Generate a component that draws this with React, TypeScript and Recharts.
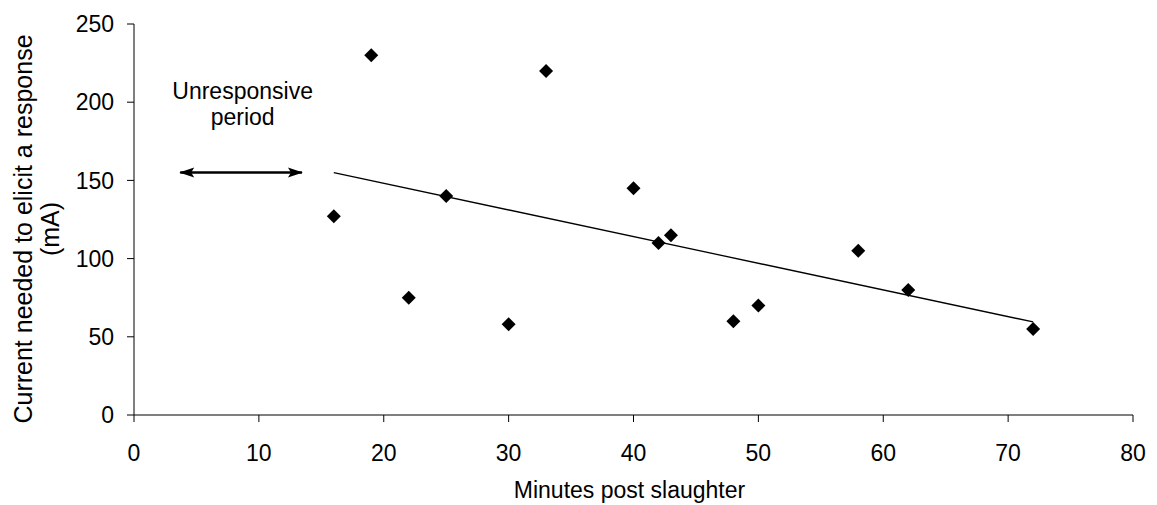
import {
  ComposedChart,
  Scatter,
  Line,
  XAxis,
  YAxis,
  ReferenceDot,
} from "recharts";

// minutes post slaughter vs current (mA)
const minutes = [16, 19, 22, 25, 30, 33, 40, 42, 43, 48, 50, 58, 62, 72];
const current = [127, 230, 75, 140, 58, 220, 145, 110, 115, 60, 70, 105, 80, 55];

// linear trend line end points
const trendX = [16, 72];
const trendY = [155, 59.5];

// double arrow marking the unresponsive period
const arrowX = [3.7, 13.45];
const arrowY = [155, 155];

const xTicks = [0, 10, 20, 30, 40, 50, 60, 70, 80];
const yTicks = [0, 50, 100, 150, 200, 250];

const points = minutes.map((m, i) => ({ x: m, y: current[i] }));
const trend = trendX.map((x, i) => ({ x, y: trendY[i] }));
const arrow = arrowX.map((x, i) => ({ x, y: arrowY[i] }));

const font = "'Liberation Sans', Arial, sans-serif";

const Diamond = (props: any) => {
  const { cx, cy } = props;
  const r = 7;
  return (
    <path
      d={`M${cx},${cy - r}L${cx + r},${cy}L${cx},${cy + r}L${cx - r},${cy}Z`}
      fill="#000"
    />
  );
};

const ArrowHead = (props: any) => {
  const { cx, cy, index } = props;
  const dir = index === 0 ? -1 : 1;
  const tip = cx + dir * 1;
  const back = cx - dir * 14;
  return (
    <path
      key={`ah-${index}`}
      d={`M${tip},${cy}L${back},${cy - 5}L${back + dir * 3},${cy}L${back},${cy + 5}Z`}
      fill="#000"
    />
  );
};

export default function App() {
  return (
    <div style={{ position: "absolute", left: 0, top: 0, background: "#fff" }}>
      <ComposedChart
        width={1157}
        height={505}
        margin={{ top: 24, right: 24, bottom: 30, left: 54 }}
        style={{ fontFamily: font }}
      >
        <XAxis
          type="number"
          dataKey="x"
          domain={[0, 80]}
          ticks={xTicks}
          tickSize={7}
          tickMargin={23}
          height={60}
          stroke="#000"
          tick={{ fill: "#000", fontSize: 23 }}
          label={{
            content: (p: any) => {
              const vb = p.viewBox || {};
              return (
                <text
                  x={vb.x + vb.width / 2 - 4}
                  y={498}
                  textAnchor="middle"
                  fontSize={23}
                  fill="#000"
                  fontFamily={font}
                >
                  Minutes post slaughter
                </text>
              );
            },
          }}
        />
        <YAxis
          type="number"
          dataKey="y"
          domain={[0, 250]}
          ticks={yTicks}
          tickSize={7}
          tickMargin={13}
          width={80}
          stroke="#000"
          tick={{ fill: "#000", fontSize: 23 }}
          label={{
            content: () => (
              <text
                transform="translate(20, 229) rotate(-90)"
                textAnchor="middle"
                fontSize={25}
                fill="#000"
                fontFamily={font}
              >
                <tspan x={0} dy={12}>Current needed to elicit a response</tspan>
                <tspan x={0} dy={27}>(mA)</tspan>
              </text>
            ),
          }}
        />
        <Line
          data={trend}
          dataKey="y"
          stroke="#000"
          strokeWidth={1.3}
          dot={false}
          activeDot={false}
          isAnimationActive={false}
        />
        <Line
          data={arrow}
          dataKey="y"
          stroke="#000"
          strokeWidth={2.5}
          dot={ArrowHead}
          activeDot={false}
          isAnimationActive={false}
        />
        <Scatter
          data={points}
          dataKey="y"
          shape={Diamond}
          isAnimationActive={false}
        />
        <ReferenceDot
          x={8.7}
          y={200}
          r={0}
          stroke="none"
          label={{
            content: (p: any) => {
              const vb = p.viewBox || {};
              const cx = vb.x + (vb.width || 0) / 2;
              const cy = vb.y + (vb.height || 0) / 2;
              return (
                <text
                  x={cx}
                  y={cy}
                  textAnchor="middle"
                  fontSize={23}
                  fill="#000"
                  fontFamily={font}
                >
                  <tspan x={cx} dy={-3}>Unresponsive</tspan>
                  <tspan x={cx} dy={26}>period</tspan>
                </text>
              );
            },
          }}
        />
      </ComposedChart>
    </div>
  );
}
